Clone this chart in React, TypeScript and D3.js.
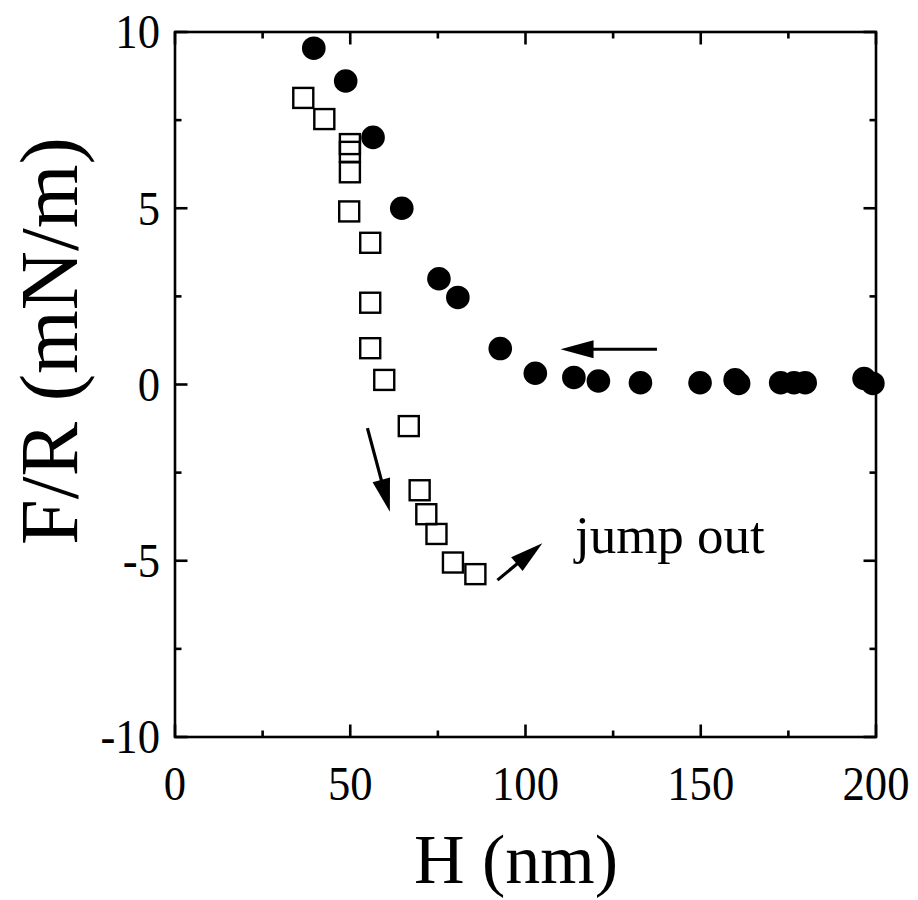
import React from "react";
import * as d3 from "d3";

const approachH = [39.6, 48.7, 56.5, 64.7, 75.3, 80.7, 92.8, 102.8, 113.8, 120.8, 132.8, 149.8, 159.8, 160.8, 172.8, 176.6, 179.8, 196.6, 199.1];
const approachF = [9.54, 8.61, 7.01, 5.0, 3.0, 2.47, 1.02, 0.32, 0.2, 0.1, 0.05, 0.05, 0.13, 0.03, 0.05, 0.05, 0.05, 0.17, 0.03];

const separationH = [36.6, 42.6, 49.9, 49.9, 49.9, 49.7, 55.7, 55.7, 55.7, 59.7, 66.7, 69.8, 71.7, 74.6, 79.3, 85.7];
const separationF = [8.13, 7.53, 6.82, 6.6, 6.02, 4.91, 4.02, 2.32, 1.03, 0.13, -1.18, -3.0, -3.68, -4.24, -5.05, -5.38];

const xTicks = [0, 50, 100, 150, 200];
const xMinor = [25, 75, 125, 175];
const yTicks = [10, 5, 0, -5, -10];
const yMinor = [7.5, 2.5, -2.5, -7.5];

const arrows = [
  { from: [137.5, 1.0], to: [110, 1.0] },
  { from: [54.9, -1.24], to: [61.3, -3.61] },
  { from: [92, -5.55], to: [104.8, -4.5] },
];
const annotation = { text: "jump out", at: [114.1, -4.78] };

const FONT = "'Liberation Serif', 'Times New Roman', serif";

export default function App() {
  const W = 918, H = 900;
  const left = 175, right = 876, top = 32, bottom = 737;
  const x = d3.scaleLinear().domain([0, 200]).range([left, right]);
  const y = d3.scaleLinear().domain([-10, 10]).range([bottom, top]);
  const major = 12.5, minor = 6.5;
  const sw = 2.6;

  const arrowEls = arrows.map((a, i) => {
    const x1 = x(a.from[0]), y1 = y(a.from[1]);
    const x2 = x(a.to[0]), y2 = y(a.to[1]);
    const dx = x2 - x1, dy = y2 - y1;
    const len = Math.hypot(dx, dy);
    const ux = dx / len, uy = dy / len;
    const hl = 33, hw = 9;
    const bx = x2 - ux * hl, by = y2 - uy * hl;
    const px = -uy, py = ux;
    const pts = [
      [x2, y2],
      [bx + px * hw, by + py * hw],
      [bx - px * hw, by - py * hw],
    ];
    return (
      <g key={i}>
        <line x1={x1} y1={y1} x2={bx + ux * 2} y2={by + uy * 2} stroke="#000" strokeWidth={3.2} />
        <polygon points={pts.map((p) => p.join(",")).join(" ")} fill="#000" />
      </g>
    );
  });

  return (
    <svg width={W} height={H} style={{ position: "absolute", left: 0, top: 0, background: "#fff" }}>
      <rect x={0} y={0} width={W} height={H} fill="#fff" />
      {separationH.map((h, i) => (
        <rect key={"s" + i} x={x(h) - 10} y={y(separationF[i]) - 10} width={20} height={20}
          fill="none" stroke="#000" strokeWidth={2.4} />
      ))}
      {approachH.map((h, i) => (
        <circle key={"c" + i} cx={x(h)} cy={y(approachF[i])} r={11.8} fill="#000" />
      ))}
      <rect x={left} y={top} width={right - left} height={bottom - top} fill="none" stroke="#000" strokeWidth={sw} />
      {xTicks.concat(xMinor).map((t) => {
        const len = xTicks.includes(t) ? major : minor;
        return (
          <g key={"xt" + t}>
            <line x1={x(t)} x2={x(t)} y1={bottom} y2={bottom - len} stroke="#000" strokeWidth={sw} />
            <line x1={x(t)} x2={x(t)} y1={top} y2={top + len} stroke="#000" strokeWidth={sw} />
          </g>
        );
      })}
      {yTicks.concat(yMinor).map((t) => {
        const len = yTicks.includes(t) ? major : minor;
        return (
          <g key={"yt" + t}>
            <line x1={left} x2={left + len} y1={y(t)} y2={y(t)} stroke="#000" strokeWidth={sw} />
            <line x1={right} x2={right - len} y1={y(t)} y2={y(t)} stroke="#000" strokeWidth={sw} />
          </g>
        );
      })}
      {xTicks.map((t) => (
        <text key={"xl" + t} x={x(t)} y={800} textAnchor="middle" fontFamily={FONT} fontSize={48}
          transform={`translate(${x(t)},0) scale(0.93,1) translate(${-x(t)},0)`}>{t}</text>
      ))}
      {yTicks.map((t) => (
        <text key={"yl" + t} x={160} y={y(t) + 16.5} textAnchor="end" fontFamily={FONT} fontSize={48}
          transform={`translate(160,0) scale(0.93,1) translate(-160,0)`}>{t}</text>
      ))}
      <text x={516} y={883} textAnchor="middle" fontFamily={FONT} fontSize={70}>H (nm)</text>
      <text transform={`translate(77,341) rotate(-90)`} textAnchor="middle" fontFamily={FONT} fontSize={82}>F/R (mN/m)</text>
      {arrowEls}
      <text x={x(annotation.at[0])} y={y(annotation.at[1])} fontFamily={FONT} fontSize={53}>{annotation.text}</text>
    </svg>
  );
}
